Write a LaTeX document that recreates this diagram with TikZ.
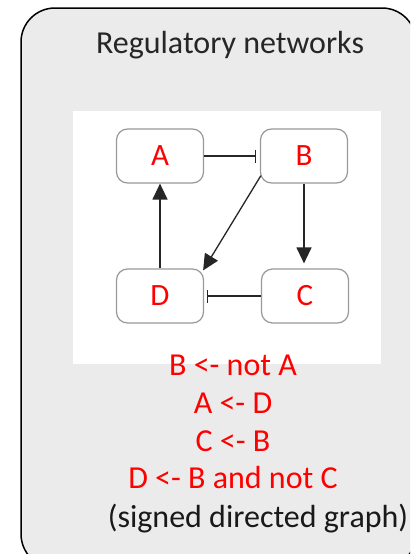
\documentclass[tikz,border=0pt]{standalone}
\usepackage{fontspec}
\setmainfont{Carlito}
\usetikzlibrary{arrows.meta}

\begin{document}
\begin{tikzpicture}[x=1pt,y=-1pt]
\tikzstyle{gene}=[draw=black!40,line width=1.2pt,rounded corners=11pt,fill=white,
  minimum width=87pt,minimum height=54pt,text=red,font=\fontsize{31}{33}\selectfont]
\tikzstyle{act}=[draw=black!85,line width=1.3pt,-{Triangle[length=16pt,width=15pt]}]
\tikzstyle{inh}=[draw=black!85,line width=1.3pt,-{Bar[width=13pt]}]
\tikzstyle{rule}=[text=red,font=\fontsize{32}{34}\selectfont,anchor=base]
\useasboundingbox (0,0) rectangle (410,554);
\clip (0,0) rectangle (410,554);

% panel and white canvas
\draw[fill=black!8,line width=1.5pt,rounded corners=34pt] (21,8) rectangle (416,568);
\fill[white] (73,111) rectangle (381,364);
\node[anchor=base,text=black!85,font=\fontsize{32}{34}\selectfont] (title) at (230,53) {Regulatory networks};

% the four genes
\node[gene] (A) at (160,156) {A};
\node[gene] (B) at (304,156) {B};
\node[gene] (D) at (160,296) {D};
\node[gene] (C) at (305,296) {C};

% edges
\draw[inh,shorten >=4pt] (A) -- (B);
\draw[act] (D) -- (A);
\draw[act] ([shift={(1,-8)}]B.south west) -- ([shift={(-1,2)}]D.north east);
\draw[act,shorten >=5pt] (B.south) -- (B.south |- C.north);
\draw[inh,shorten >=3pt] (C) -- (D);

% rules
\node[rule] (r1) at (233,375) {B <- not A};
\node[rule] (r2) at (233,413) {A <- D};
\node[rule] (r3) at (233,451) {C <- B};
\node[rule] (r4) at (233,488) {D <- B and not C};
\node[anchor=base,text=black!90,font=\fontsize{32}{34}\selectfont] (note) at (258,527) {(signed directed graph)};
\end{tikzpicture}
\end{document}
